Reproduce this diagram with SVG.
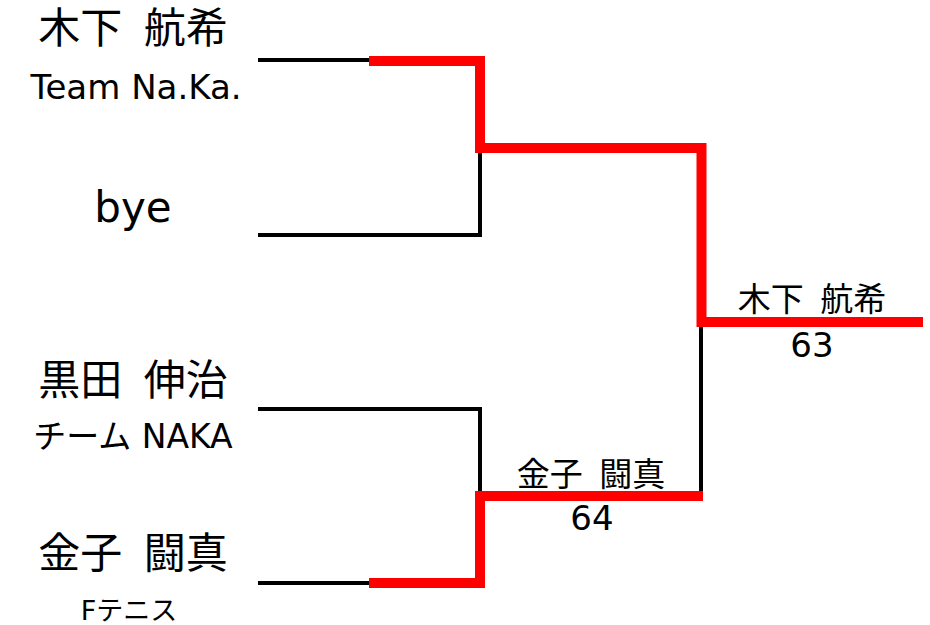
<svg xmlns="http://www.w3.org/2000/svg" width="930" height="625" viewBox="0 0 930 625">
<style>
text{font-family:"DejaVu Sans","Noto Sans CJK JP",sans-serif;fill:#000;text-anchor:middle}
.name{font-size:42px;word-spacing:8px}
.team{font-size:34px}
.res{font-size:33px;word-spacing:6px}
.score{font-size:34px}
.blk{fill:none;stroke:#000;stroke-width:4}
.red{fill:none;stroke:#ff0000;stroke-width:10;stroke-linejoin:miter}
</style>
<rect width="930" height="625" fill="#fff"/>
<g id="connectors">
<path class="blk" d="M258,60 H372"/>
<path class="blk" d="M258,235 H480 V148"/>
<path class="blk" d="M258,409 H480 V496"/>
<path class="blk" d="M258,583 H372"/>
<path class="blk" d="M701,322 V496"/>
<path class="red" d="M369,61 H480 V148 H701.5 V322 H923"/>
<path class="red" d="M369,583 H480 V496 H703"/>
</g>
<g id="p1">
<text class="name" x="133" y="43">木下 航希</text>
<text class="team" x="136" y="99">Team Na.Ka.</text>
</g>
<g id="p2">
<text class="name" x="133" y="222" style="word-spacing:0">bye</text>
</g>
<g id="p3">
<text class="name" x="133" y="395">黒田 伸治</text>
<text class="team" x="133" y="448" style="font-size:33px">チーム NAKA</text>
</g>
<g id="p4">
<text class="name" x="133" y="568">金子 闘真</text>
<text class="team" x="129" y="620" style="font-size:27px">Fテニス</text>
</g>
<g id="semi2">
<text class="res" x="591" y="486">金子 闘真</text>
<text class="score" x="592" y="530">64</text>
</g>
<g id="final">
<text class="res" x="812" y="311">木下 航希</text>
<text class="score" x="812" y="357">63</text>
</g>
</svg>
